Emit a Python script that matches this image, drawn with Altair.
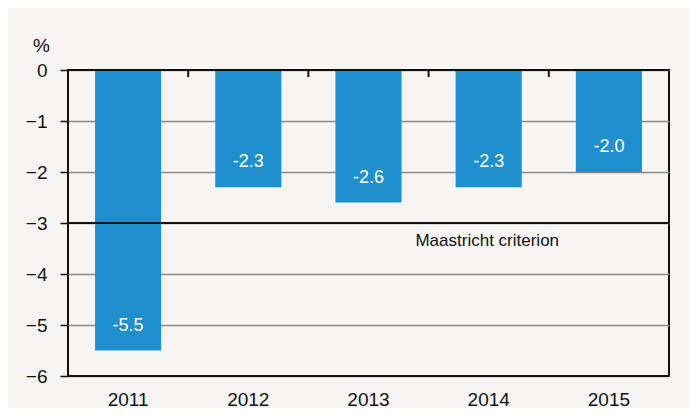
import altair as alt
import pandas as pd

years = ["2011", "2012", "2013", "2014", "2015"]
values = [-5.5, -2.3, -2.6, -2.3, -2.0]
labels = ["-5.5", "-2.3", "-2.6", "-2.3", "-2.0"]
criterion = -3
criterion_label = "Maastricht criterion"

df = pd.DataFrame({"year": years, "value": values, "label": labels})
PI = 0.45
PO = 0.225
W = 601
FONT = "Liberation Sans"
BAR = "#1f8fce"

xscale = alt.Scale(domain=years, paddingInner=PI, paddingOuter=PO)
yscale = alt.Scale(domain=[-6, 0], nice=False)

base = alt.Chart(df)

bars = base.mark_bar(color=BAR).encode(
    x=alt.X("year:N", scale=xscale, sort=years,
            axis=alt.Axis(title=None, labelAngle=0, ticks=False, domain=False,
                          labelPadding=14, labelFontSize=19, labelColor="#111",
                          labelFont=FONT)),
    y=alt.Y("value:Q", scale=yscale,
            axis=alt.Axis(values=[0, -1, -2, -3, -4, -5, -6], title="%",
                          titleAngle=0, titleX=-27, titleY=-25, titleAlign="center",
                          titleBaseline="middle", titleFontSize=19,
                          titleFontWeight="normal", titleFont=FONT, titleColor="#111",
                          labelFontSize=19, labelFont=FONT, labelColor="#111",
                          labelPadding=13, tickSize=8, tickColor="#111", tickWidth=1.5,
                          domain=False, grid=True, gridColor="#8a8a8a",
                          gridWidth=1.5)),
    y2=alt.datum(0),
)

text = base.mark_text(color="white", fontSize=18, font=FONT, dy=-25,
                      baseline="middle").encode(
    x=alt.X("year:N", scale=xscale, sort=years),
    y=alt.Y("value:Q", scale=yscale),
    text="label:N",
)

ticks_df = pd.DataFrame({"year": years[:-1]})
gap = (W / len(years)) * PI / 2
topticks = alt.Chart(ticks_df).mark_rule(color="#111", strokeWidth=2, xOffset=gap).encode(
    x=alt.X("year:N", scale=xscale, sort=years, bandPosition=1),
    y=alt.value(0),
    y2=alt.value(7),
)

lines_df = pd.DataFrame({"y": [0, -6, criterion]})
hlines = alt.Chart(lines_df).mark_rule(color="#111", strokeWidth=2).encode(
    y=alt.Y("y:Q", scale=yscale),
)

crit_df = pd.DataFrame({"year": ["2013"], "y": [criterion], "t": [criterion_label]})
crit = alt.Chart(crit_df).mark_text(align="left", baseline="middle", fontSize=17,
                                    font=FONT, color="#111", dx=80, dy=18).encode(
    x=alt.X("year:N", scale=xscale, sort=years, bandPosition=0),
    y=alt.Y("y:Q", scale=yscale),
    text="t:N",
)

chart = alt.layer(bars, text, hlines, topticks, crit).properties(
    width=W, height=306,
    autosize=alt.AutoSizeParams(type="none"),
    padding={"left": 60, "top": 62, "right": 20, "bottom": 32},
    background="#f6f5f3",
).configure_view(stroke="#111", strokeWidth=2)

chart.save("out.html", embed_options={"renderer": "svg", "actions": False})
